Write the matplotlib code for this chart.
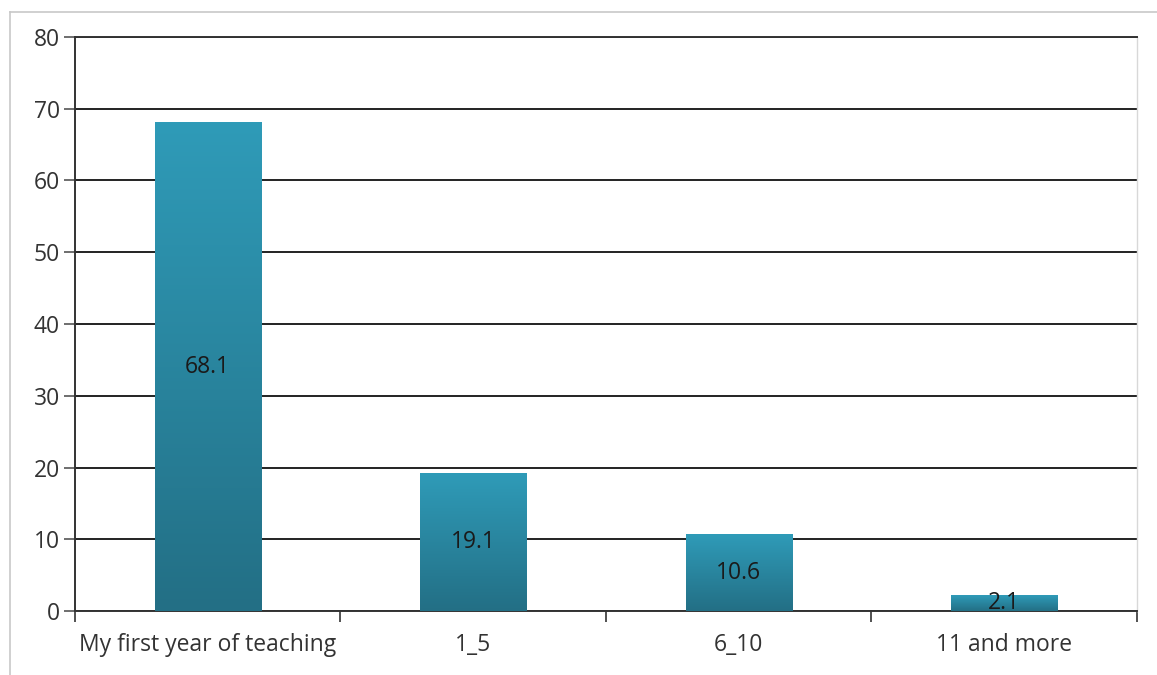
import matplotlib.pyplot as plt
import numpy as np
from matplotlib.colors import LinearSegmentedColormap
from matplotlib.lines import Line2D

categories = ["My first year of teaching", "1_5", "6_10", "11 and more"]
values = [68.1, 19.1, 10.6, 2.1]
y_ticks = [0, 10, 20, 30, 40, 50, 60, 70, 80]

plt.rcParams['font.family'] = ['Open Sans', 'DejaVu Sans']
fs = 16.5

fig = plt.figure(figsize=(11.57, 6.75), dpi=100)
ax = fig.add_axes([0.0648, 0.0948, 0.9179, 0.8504])

# outer frame of the chart
fig.add_artist(Line2D([10 / 1157, 10 / 1157], [0, 1 - 12 / 675], color='#c8c8c8', lw=1.2))
fig.add_artist(Line2D([10 / 1157, 1], [1 - 12 / 675, 1 - 12 / 675], color='#c8c8c8', lw=1.2))

# vertical gradient for the bars (light at top, dark at bottom)
cmap = LinearSegmentedColormap.from_list("teal", ["#236f85", "#2f9bb8"])
grad = np.linspace(0, 1, 256).reshape(-1, 1)

x = np.arange(len(categories))
width = 0.4
bars = ax.bar(x, values, width=width, color='none', zorder=3)
for rect, v in zip(bars, values):
    x0 = rect.get_x()
    ax.imshow(grad, cmap=cmap, origin='lower', aspect='auto',
              extent=[x0, x0 + width, 0, v], zorder=3)
    ax.text(rect.get_x() + width / 2, v / 2, f"{v}", ha='center', va='center',
            fontsize=fs, color='#1a1a1a', zorder=4)

ax.set_xlim(-0.5, len(categories) - 0.5)
ax.set_ylim(0, 80)
ax.set_yticks(y_ticks)
ax.set_xticks(x)
ax.set_xticklabels(categories)
ax.set_xticks(np.arange(len(categories) + 1) - 0.5, minor=True)
ax.tick_params(axis='x', which='major', length=0, pad=16, labelsize=fs, labelcolor='#333333')
ax.tick_params(axis='x', which='minor', length=8, width=1.2, color='#333333')
ax.tick_params(axis='y', length=8, width=1.2, color='#555555', labelsize=fs, labelcolor='#333333', pad=3)

ax.grid(axis='y', color='#222222', lw=1.4, zorder=1)
ax.set_axisbelow(True)

for side in ['left', 'bottom', 'top']:
    ax.spines[side].set_color('#333333')
    ax.spines[side].set_linewidth(1.4)
ax.spines['right'].set_color('#d8d8d8')
ax.spines['right'].set_linewidth(1.0)

plt.savefig("out.png", dpi=100)
